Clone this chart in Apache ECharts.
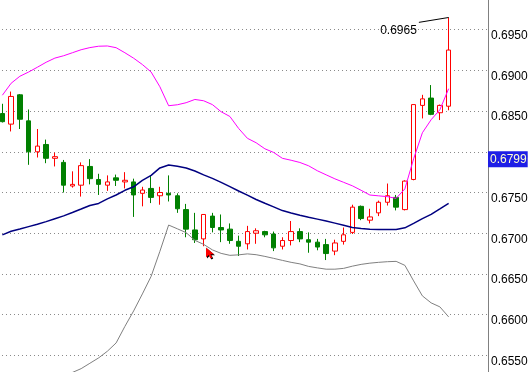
<!DOCTYPE html>
<html><head><meta charset="utf-8">
<script src="https://cdn.jsdelivr.net/npm/echarts@6/dist/echarts.min.js"></script>
<style>
html,body{margin:0;padding:0;background:#fff;width:530px;height:372px;overflow:hidden;position:relative}
#c{position:absolute;left:-2px;top:-11px;width:532px;height:407px}
</style>
</head><body><div id="c"></div>
<script>
// ---- data ----
const opens  = [0.6847,0.6834,0.6870,0.6838,0.6800,0.6809,0.6792,0.6787,0.6758,0.6759,0.6782,0.6766,0.6759,0.6768,0.6763,0.6763,0.6749,0.6755,0.6746,0.6749,0.6746,0.6729,0.6704,0.6693,0.6721,0.6707,0.6705,0.6690,0.6687,0.6700,0.6702,0.6699,0.6684,0.6691,0.6702,0.6692,0.6689,0.6686,0.6678,0.6690,0.6701,0.6733,0.6716,0.6725,0.6738,0.6744,0.6729,0.6766,0.6857,0.6866,0.6848,0.6856];
const highs  = [0.6859,0.6874,0.6871,0.6852,0.6828,0.6815,0.6799,0.6790,0.6776,0.6787,0.6791,0.6773,0.6771,0.6772,0.6775,0.6767,0.6757,0.6771,0.6757,0.6771,0.6749,0.6736,0.6725,0.6723,0.6725,0.6723,0.6712,0.6697,0.6709,0.6706,0.6703,0.6702,0.6695,0.6715,0.6706,0.6701,0.6693,0.6693,0.6692,0.6707,0.6735,0.6734,0.6730,0.6740,0.6761,0.6747,0.6765,0.6858,0.6870,0.6882,0.6858,0.6965];
const lows   = [0.6836,0.6825,0.6828,0.6784,0.6793,0.6786,0.6782,0.6750,0.6756,0.6745,0.6760,0.6747,0.6752,0.6758,0.6755,0.6720,0.6733,0.6737,0.6735,0.6739,0.6725,0.6695,0.6688,0.6684,0.6701,0.6689,0.6687,0.6672,0.6680,0.6687,0.6695,0.6678,0.6680,0.6685,0.6689,0.6676,0.6679,0.6667,0.6673,0.6686,0.6699,0.6716,0.6712,0.6721,0.6734,0.6728,0.6728,0.6765,0.6841,0.6845,0.6839,0.6851];
const closes = [0.6837,0.6868,0.6840,0.6800,0.6807,0.6792,0.6794,0.6759,0.6760,0.6783,0.6767,0.6760,0.6763,0.6765,0.6765,0.6747,0.6753,0.6744,0.6750,0.6747,0.6730,0.6705,0.6692,0.6723,0.6707,0.6704,0.6691,0.6684,0.6702,0.6703,0.6698,0.6682,0.6691,0.6702,0.6693,0.6689,0.6683,0.6675,0.6688,0.6698,0.6732,0.6718,0.6720,0.6738,0.6746,0.6732,0.6764,0.6858,0.6865,0.6846,0.6857,0.6925];
const upperBand  = [0.68695,0.68842,0.68928,0.68980,0.69039,0.69100,0.69151,0.69180,0.69217,0.69254,0.69280,0.69297,0.69300,0.69279,0.69217,0.69150,0.69072,0.68980,0.68799,0.68566,0.68578,0.68603,0.68643,0.68627,0.68580,0.68492,0.68434,0.68287,0.68166,0.68111,0.68037,0.67992,0.67920,0.67896,0.67869,0.67828,0.67767,0.67717,0.67668,0.67625,0.67582,0.67527,0.67469,0.67459,0.67449,0.67428,0.67545,0.67914,0.68234,0.68394,0.68517,0.68775];
const middleBand = [0.66980,0.67024,0.67051,0.67081,0.67110,0.67142,0.67178,0.67213,0.67254,0.67297,0.67341,0.67366,0.67422,0.67469,0.67527,0.67570,0.67650,0.67711,0.67802,0.67838,0.67822,0.67801,0.67764,0.67716,0.67673,0.67625,0.67572,0.67518,0.67468,0.67414,0.67368,0.67324,0.67278,0.67248,0.67221,0.67196,0.67173,0.67149,0.67124,0.67098,0.67071,0.67058,0.67049,0.67046,0.67044,0.67046,0.67066,0.67121,0.67179,0.67232,0.67299,0.67367];
const lowerBand  = [0.65265,0.65209,0.65173,0.65185,0.65185,0.65185,0.65209,0.65246,0.65289,0.65336,0.65402,0.65468,0.65550,0.65652,0.65855,0.66045,0.66254,0.66470,0.66777,0.67100,0.67054,0.67007,0.66912,0.66863,0.66795,0.66752,0.66728,0.66734,0.66746,0.66736,0.66715,0.66691,0.66666,0.66642,0.66623,0.66592,0.66574,0.66558,0.66558,0.66568,0.66595,0.66617,0.66632,0.66642,0.66650,0.66654,0.66605,0.66414,0.66230,0.66144,0.66095,0.65972];
const yMin = 0.6500, yMax = 0.7000, yStep = 0.0050;
const emptySlots = 4;               // chart shift on the right
const bidPrice = 0.6799;            // blue price tag
const highLabel = 0.6965;           // high annotation
const highLabelEnd = [47.6, 0.6959];   // where the annotation leader ends
const highLabelText = [45.27, 0.69488];// where the annotation text sits
const tradeArrow = [23.73, 0.66758];   // red trade arrow

// ---- chart ----
const n = opens.length;
const cats = [];
for (let i = 0; i < n + emptySlots; i++) cats.push(String(i));
const candles = opens.map((o, i) => [o, closes[i], lows[i], highs[i]]);
const FONT = 'Liberation Sans';

const chart = echarts.init(document.getElementById('c'), null, {renderer: 'canvas'});
chart.setOption({
  animation: false,
  backgroundColor: '#ffffff',
  textStyle: {fontFamily: FONT},
  grid: {left: 0, right: 42, top: 0, bottom: 0, containLabel: false, outerBoundsMode: 'none'},
  xAxis: [
    {type: 'category', data: cats, boundaryGap: true, show: false},
    {type: 'value', min: -0.5, max: n + emptySlots - 0.5, show: false}
  ],
  yAxis: {
    type: 'value', position: 'right', min: yMin, max: yMax, interval: yStep,
    axisLine: {show: true, onZero: false, lineStyle: {color: '#808080', width: 1}},
    axisTick: {show: false},
    splitLine: {show: true, lineStyle: {color: '#8a8a8a', type: [1, 3], width: 1}},
    axisLabel: {margin: 3, color: '#000000', fontFamily: FONT, fontSize: 12,
      verticalAlign: 'top', lineHeight: 12, formatter: v => v.toFixed(4)}
  },
  series: [
    {type: 'candlestick', z: 1, barWidth: 5, data: candles,
      itemStyle: {color: '#ffffff', color0: '#008000', borderColor: '#ff0000', borderColor0: '#008000', borderWidth: 1},
      markLine: {silent: true, symbol: ['none', 'none'], animation: false,
        lineStyle: {color: 'rgba(0,0,0,0)', width: 0},
        label: {show: true, position: 'end', distance: 0, formatter: bidPrice.toFixed(4),
          backgroundColor: '#1e1ee6', color: '#ffffd0', padding: [2, 1, 2, 2],
          fontFamily: FONT, fontSize: 12, lineHeight: 12, offset: [0, 7.5]},
        data: [{yAxis: bidPrice}]}
    },
    {type: 'line', z: 3, data: upperBand, symbol: 'none', lineStyle: {color: '#ff00ff', width: 1}},
    {type: 'line', z: 3, data: middleBand, symbol: 'none', lineStyle: {color: '#000080', width: 1.5}},
    {type: 'line', z: 3, data: lowerBand, symbol: 'none', lineStyle: {color: '#808080', width: 1}},
    {type: 'line', z: 4, xAxisIndex: 1, symbol: 'none',
      data: [[n - 1, highLabel], highLabelEnd], lineStyle: {color: '#000000', width: 1}},
    {type: 'scatter', z: 4, xAxisIndex: 1, symbolSize: 1, itemStyle: {color: 'rgba(0,0,0,0)', opacity: 1},
      data: [highLabelText],
      label: {show: true, position: 'inside', formatter: highLabel.toFixed(4), color: '#000000', fontFamily: FONT, fontSize: 12}},
    {type: 'scatter', z: 5, xAxisIndex: 1, data: [tradeArrow],
      symbol: 'path://M0,0 L0,12 L3,9 L5,13 L7,12 L5,8 L9,8 Z', symbolSize: [8, 11],
      itemStyle: {color: '#ff0000', opacity: 1, shadowColor: '#000000', shadowOffsetX: 1, shadowOffsetY: 1, shadowBlur: 0}}
  ]
});
</script></body></html>
